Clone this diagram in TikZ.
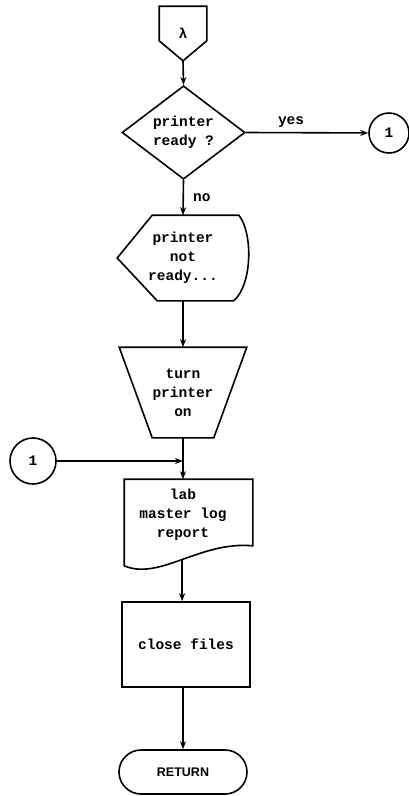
\documentclass[tikz,border=0pt]{standalone}
\usepackage{fontspec}
\setmonofont{Liberation Mono}
\setsansfont{Liberation Sans}
\usetikzlibrary{positioning,arrows.meta,calc,shapes.geometric,shapes.misc}

\begin{document}
\begin{tikzpicture}[x=1pt,y=-1pt,>={Stealth[length=8pt,width=6pt]},line width=1.6pt,
  every node/.style={font=\ttfamily\bfseries\fontsize{14.5}{19}\selectfont,align=center,inner sep=0pt},
  conn/.style={circle,draw,minimum size=#1}]
\useasboundingbox (0,0) rectangle (409,796);

\node (start) [minimum width=46pt,minimum height=53pt] at (183,33.5) {λ};
\node (dec) [diamond,draw,minimum width=123pt,minimum height=89pt] at (183.5,132.5) {printer\\ready ?};
\node (c1) [conn=40pt] at (389,133) {1};
\node (disp) [minimum width=130pt,minimum height=84pt] at (183,258) {printer\\not\\ready...};
\node (trap) [minimum width=126pt,minimum height=89pt] at (183,392.5) {turn\\printer\\on};
\node (c2) [conn=46pt] at (33,461) {1};
\node (doc) [minimum width=116pt,minimum height=70pt] at (183,515) {lab\\master log\\report};
\node (proc) [draw,minimum width=128pt,minimum height=85pt] at (186,644.5) {close files};
\node (ret) [rounded rectangle,draw,minimum width=128pt,minimum height=44pt,
  font=\sffamily\bfseries\fontsize{12.5}{14}\selectfont] at (183,772) {RETURN};

% outlines of the special boxes
\draw (start.north west) -- (start.north east) -- ($(start.south east)+(0,-20)$)
  -- (start.south) -- ($(start.south west)+(0,-20)$) -- cycle;
\draw ($(disp.north west)+(35,0)$) -- ($(disp.north east)+(-10,0)$)
  .. controls ($(disp.north east)+(4,17)$) and ($(disp.south east)+(4,-17)$) .. ($(disp.south east)+(-15,0)$)
  -- ($(disp.south west)+(40,0)$) -- (disp.west) -- cycle;
\draw (trap.north west) -- (trap.north east) -- ($(trap.south east)+(-33,0)$)
  -- ($(trap.south west)+(33,0)$) -- cycle;
\draw (doc.north west) -- ($(doc.north east)+(11,0)$) -- ($(doc.south east)+(11,-5)$)
  .. controls ($(doc.south)+(17,-10)$) and ($(doc.south)+(-23,30)$) .. ($(doc.south west)+(0,15)$)
  coordinate[pos=0.5] (docb) -- cycle;

% connectors
\draw[->] (start.south) -- (dec.north);
\draw[->] (dec.east) -- (c1) node[pos=0.37,above=4pt]{yes};
\draw[->] (dec.south) -- (disp.north) node[midway,right=9pt]{no};
\draw[->] (disp.south) -- (trap.north);
\coordinate (jn) at (trap.south |- c2);
\draw[->] (trap.south) -- (doc.north);
\draw[->] (c2) -- (jn);
\draw[->] (docb) -- (docb |- proc.north);
\draw[->] (ret.north |- proc.south) -- (ret.north);
\end{tikzpicture}
\end{document}
